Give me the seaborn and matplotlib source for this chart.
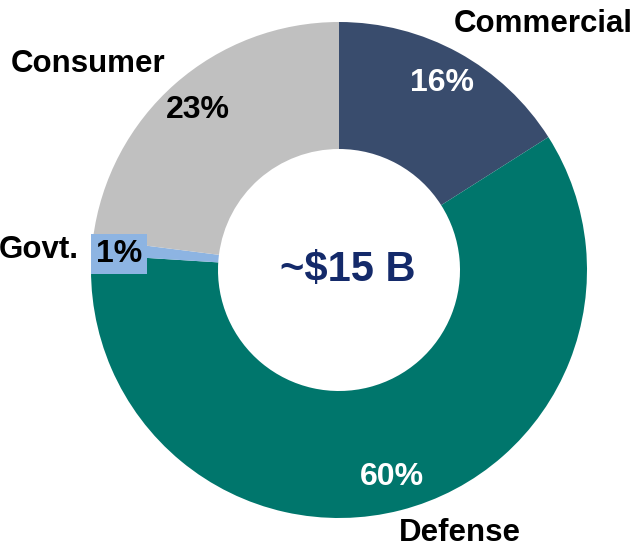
import matplotlib
matplotlib.use("Agg")
import matplotlib.pyplot as plt
import seaborn as sns

# segmenty rynku (udział w %)
segments = ["Commercial", "Defense", "Govt.", "Consumer"]
shares = [16, 60, 1, 23]
colors = ["#394C6D", "#00766C", "#8DB4E2", "#C0C0C0"]
pct_labels = ["16%", "60%", "1%", "23%"]
pct_colors = ["white", "white", "black", "black"]
total_label = "~$15 B"

sns.set_theme(style="white")
plt.rcParams["font.family"] = ["Liberation Sans", "DejaVu Sans"]

fig = plt.figure(figsize=(6.37, 5.5), dpi=100)
ax = fig.add_axes([0, 0, 1, 1])

cx, cy, R = 339, 280, 248
wedges, _, autotexts = ax.pie(
    shares, colors=colors, startangle=90, counterclock=False,
    center=(cx, cy), radius=R, autopct="%d%%", pctdistance=0.86,
    wedgeprops=dict(width=127, linewidth=0),
    textprops=dict(fontsize=23, fontweight="bold"),
)
# pie() nadpisuje limity, więc ustawiamy je po nim
ax.set_xlim(0, 637)
ax.set_ylim(0, 550)
ax.set_aspect("equal")
ax.axis("off")

for t, lab, c in zip(autotexts, pct_labels, pct_colors):
    t.set_text(lab)
    t.set_color(c)

# etykieta 1% w ramce
autotexts[2].set_position((119, 296))
autotexts[2].set_bbox(dict(boxstyle="square,pad=0.15", fc=colors[2], ec="none"))

# nazwy segmentów
ax.text(543, 526, segments[0], ha="center", va="center", fontsize=22.5, fontweight="bold", color="black")
ax.text(460, 17, segments[1], ha="center", va="center", fontsize=22.5, fontweight="bold", color="black")
ax.text(39, 300, segments[2], ha="center", va="center", fontsize=22.5, fontweight="bold", color="black")
ax.text(88, 486, segments[3], ha="center", va="center", fontsize=22.5, fontweight="bold", color="black")

ax.text(348, 280, total_label, ha="center", va="center", fontsize=30, fontweight="bold", color="#142A6A")

fig.savefig("out.png", dpi=100)
